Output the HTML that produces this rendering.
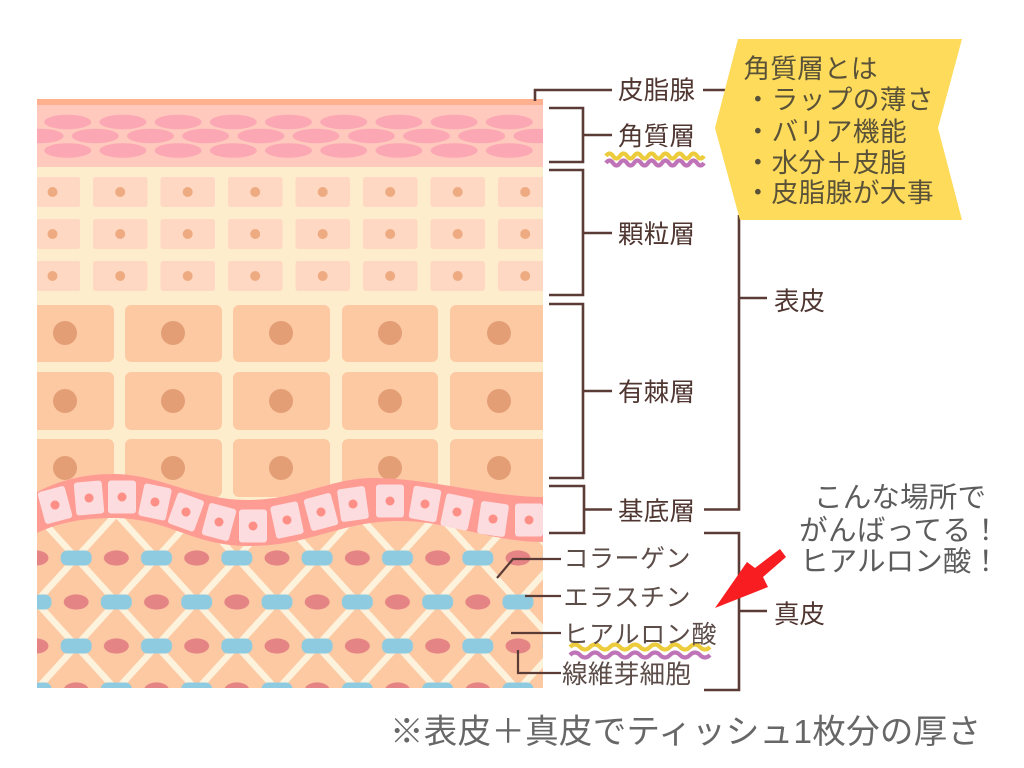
<!DOCTYPE html>
<html lang="ja">
<head>
<meta charset="utf-8">
<title>皮膚の構造</title>
<style>
html,body{margin:0;padding:0;background:#fff;width:1024px;height:768px;overflow:hidden}
svg{display:block}
text{font-family:"Liberation Sans","Noto Sans CJK JP",sans-serif}
.lb{fill:#4f3631;font-size:25.5px}
.sm{fill:#5c4d49;font-size:25px}
.bx{fill:#5a5238;font-size:26.7px}
.nt{fill:#5c5c5c;font-size:28.5px}
.ln{fill:none;stroke:#5b3b35;stroke-width:2.6}
.l2{fill:none;stroke:#5b3b35;stroke-width:2.2}
</style>
</head>
<body>
<svg width="1024" height="768" viewBox="0 0 1024 768" xmlns="http://www.w3.org/2000/svg">
<defs>
<clipPath id="skin"><rect x="37" y="99" width="506" height="589"/></clipPath>
<pattern id="gran" patternUnits="userSpaceOnUse" x="86.5" y="171" width="67.5" height="42">
  <rect x="6.5" y="6" width="54.5" height="30" rx="2.5" fill="#ffd8c3"/>
  <circle cx="33.7" cy="21" r="5" fill="#eeab82"/>
</pattern>
<pattern id="latt" patternUnits="userSpaceOnUse" x="36" y="514" width="80.33" height="88">
  <path d="M-10 -11L90.33 99M90.33 -11L-10 99" stroke="#fdf2dc" stroke-width="6.5" fill="none"/>
</pattern>
<pattern id="derm" patternUnits="userSpaceOnUse" x="36" y="514" width="80.33" height="88">
  <rect x="24.67" y="36.5" width="31" height="15" rx="6.5" fill="#8fcbe0"/>
  <rect x="-15.5" y="-7.5" width="31" height="15" rx="6.5" fill="#8fcbe0"/>
  <rect x="64.83" y="-7.5" width="31" height="15" rx="6.5" fill="#8fcbe0"/>
  <rect x="-15.5" y="80.5" width="31" height="15" rx="6.5" fill="#8fcbe0"/>
  <rect x="64.83" y="80.5" width="31" height="15" rx="6.5" fill="#8fcbe0"/>
  <ellipse cx="0" cy="44" rx="12.5" ry="7.6" fill="#e58485"/>
  <ellipse cx="80.33" cy="44" rx="12.5" ry="7.6" fill="#e58485"/>
  <ellipse cx="40.17" cy="0" rx="12.5" ry="7.6" fill="#e58485"/>
  <ellipse cx="40.17" cy="88" rx="12.5" ry="7.6" fill="#e58485"/>
</pattern>
<g id="bc"><rect x="-14" y="-16.5" width="28" height="33" rx="3" fill="#fcdcdf"/><circle r="4.5" fill="#fe8f87"/></g>
<g id="r1" fill="#fba8b4">
  <ellipse cx="67.7" rx="23.5" ry="7.3"/><ellipse cx="122.9" rx="23.5" ry="7.3"/><ellipse cx="178.1" rx="23.5" ry="7.3"/><ellipse cx="233.3" rx="23.5" ry="7.3"/><ellipse cx="288.5" rx="23.5" ry="7.3"/><ellipse cx="343.7" rx="23.5" ry="7.3"/><ellipse cx="398.9" rx="23.5" ry="7.3"/><ellipse cx="454.1" rx="23.5" ry="7.3"/><ellipse cx="509.3" rx="23.5" ry="7.3"/>
</g>
<g id="r2" fill="#fba8b4">
  <ellipse cx="40.1" rx="23.5" ry="7.3"/><ellipse cx="95.3" rx="23.5" ry="7.3"/><ellipse cx="150.5" rx="23.5" ry="7.3"/><ellipse cx="205.7" rx="23.5" ry="7.3"/><ellipse cx="260.9" rx="23.5" ry="7.3"/><ellipse cx="316.1" rx="23.5" ry="7.3"/><ellipse cx="371.3" rx="23.5" ry="7.3"/><ellipse cx="426.5" rx="23.5" ry="7.3"/><ellipse cx="481.7" rx="23.5" ry="7.3"/><ellipse cx="536.9" rx="23.5" ry="7.3"/>
</g>
</defs>

<g clip-path="url(#skin)">
  <!-- corneum -->
  <rect x="37" y="99" width="506" height="7" fill="#ffb08f"/>
  <rect x="37" y="105" width="506" height="62" fill="#ffc9bd"/>
  <use href="#r1" y="122"/>
  <use href="#r2" y="136"/>
  <use href="#r1" y="150.500"/>
  <!-- granular + spinous background -->
  <rect x="37" y="167" width="506" height="360" fill="#fdedcd"/>
  <rect x="37" y="177" width="43" height="30" rx="2" fill="#ffd8c3"/>
  <rect x="37" y="219" width="43" height="30" rx="2" fill="#ffd8c3"/>
  <rect x="37" y="261" width="43" height="30" rx="2" fill="#ffd8c3"/>
  <circle cx="52.5" cy="192" r="5" fill="#eeab82"/>
  <circle cx="52.5" cy="234" r="5" fill="#eeab82"/>
  <circle cx="52.5" cy="276" r="5" fill="#eeab82"/>
  <rect x="86.5" y="171" width="456.5" height="126" fill="url(#gran)"/>
  <!-- spinous -->
  <g fill="#fdc9a3">
    <rect x="20" y="305" width="94" height="57" rx="6"/><rect x="125" y="305" width="97" height="57" rx="6"/><rect x="233" y="305" width="97" height="57" rx="6"/><rect x="342" y="305" width="96" height="57" rx="6"/><rect x="450" y="305" width="110" height="57" rx="6"/>
    <rect x="20" y="372" width="94" height="58" rx="6"/><rect x="125" y="372" width="97" height="58" rx="6"/><rect x="233" y="372" width="97" height="58" rx="6"/><rect x="342" y="372" width="96" height="58" rx="6"/><rect x="450" y="372" width="110" height="58" rx="6"/>
    <rect x="20" y="439" width="94" height="58" rx="6"/><rect x="125" y="439" width="97" height="58" rx="6"/><rect x="233" y="439" width="97" height="58" rx="6"/><rect x="342" y="439" width="96" height="58" rx="6"/><rect x="450" y="439" width="110" height="58" rx="6"/>
  </g>
  <g fill="#e39e75">
    <circle cx="65" cy="333" r="12"/><circle cx="173" cy="333" r="12"/><circle cx="281" cy="333" r="12"/><circle cx="390" cy="333" r="12"/><circle cx="499" cy="333" r="12"/>
    <circle cx="65" cy="401" r="12"/><circle cx="173" cy="401" r="12"/><circle cx="281" cy="401" r="12"/><circle cx="390" cy="401" r="12"/><circle cx="499" cy="401" r="12"/>
    <circle cx="65" cy="468" r="12"/><circle cx="173" cy="468" r="12"/><circle cx="281" cy="468" r="12"/><circle cx="390" cy="468" r="12"/><circle cx="499" cy="468" r="12"/>
  </g>
  <!-- dermis -->
  <rect x="37" y="512" width="506" height="176" fill="#fdc9a3"/>
  <rect x="37" y="512" width="506" height="176" fill="url(#latt)"/>
  <rect x="37" y="532" width="506" height="156" fill="url(#derm)"/>
  <!-- basal -->
  <path d="M37 492C60 480 85 474 113 474C160 474 195 500 247 500C300 500 330 478 373 478C430 478 490 497 543 497L543 542C490 542 450 521 400 521C340 521 310 546 250 546C190 546 170 518 113 518C85 518 60 522 37 533Z" fill="#fe9c94"/>
  <use href="#bc" transform="translate(55 505) rotate(-15)"/>
  <use href="#bc" transform="translate(89 498) rotate(-5)"/>
  <use href="#bc" transform="translate(122 497)"/>
  <use href="#bc" transform="translate(155 502) rotate(12)"/>
  <use href="#bc" transform="translate(186 512) rotate(20)"/>
  <use href="#bc" transform="translate(219 522) rotate(15)"/>
  <use href="#bc" transform="translate(253 526)"/>
  <use href="#bc" transform="translate(287 520) rotate(-12)"/>
  <use href="#bc" transform="translate(321 512) rotate(-15)"/>
  <use href="#bc" transform="translate(353 504) rotate(-8)"/>
  <use href="#bc" transform="translate(390 501)"/>
  <use href="#bc" transform="translate(425 504) rotate(10)"/>
  <use href="#bc" transform="translate(457 512) rotate(12)"/>
  <use href="#bc" transform="translate(493 519) rotate(8)"/>
  <use href="#bc" transform="translate(529 520)"/>
</g>

<!-- brackets -->
<path class="ln" d="M535 101V90H612"/>
<path class="ln" d="M703 90H726"/>
<path class="ln" d="M549 108H583V162H549M583 135H612"/>
<path class="ln" d="M549 170H583V295H549M583 233H612"/>
<path class="ln" d="M549 304H583V478H549M583 391H612"/>
<path class="ln" d="M549 486H584V533H549M584 509.500H612"/>
<path class="ln" d="M704 509.500H739V215M739 298H767"/>
<path class="ln" d="M704 533H739V690H704M739 611H767"/>

<!-- dermis connectors -->
<path class="l2" d="M497 578L513 559H561"/>
<path class="l2" d="M525 596H561"/>
<path class="l2" d="M511 633H561"/>
<path class="l2" d="M518 650V673H561"/>

<!-- yellow box -->
<polygon points="738,39 962,39 938,128 962,220 740,220 715,128" fill="#fedb5b"/>

<!-- wavy underlines -->
<path d="M606 156q3.500 -5 7 0t7 0t7 0t7 0t7 0t7 0t7 0t7 0t7 0t7 0t7 0t7 0t7 0t7 0" fill="none" stroke="#eccb3d" stroke-width="4.200"/>
<path d="M606 163q3.500 -5 7 0t7 0t7 0t7 0t7 0t7 0t7 0t7 0t7 0t7 0t7 0t7 0t7 0t7 0" fill="none" stroke="#bf74b8" stroke-width="4.200"/>
<path d="M570 647q5 -5 10 0t10 0t10 0t10 0t10 0t10 0t10 0t10 0t10 0t10 0t10 0t10 0t10 0t10 0" fill="none" stroke="#eccb3d" stroke-width="4.200"/>
<path d="M570 655q5 -5 10 0t10 0t10 0t10 0t10 0t10 0t10 0t10 0t10 0t10 0t10 0t10 0t10 0t10 0" fill="none" stroke="#bf74b8" stroke-width="4.200"/>

<!-- labels -->
<text class="lb" x="618" y="99" textLength="77">皮脂腺</text>
<text class="lb" x="618" y="145" textLength="77">角質層</text>
<text class="lb" x="618" y="243" textLength="77">顆粒層</text>
<text class="lb" x="618" y="401" textLength="77">有棘層</text>
<text class="lb" x="618" y="520" textLength="77">基底層</text>
<text class="lb" x="774" y="310" textLength="51">表皮</text>
<text class="lb" x="774" y="623" textLength="51">真皮</text>

<text class="sm" x="563.500" y="567" textLength="127">コラーゲン</text>
<text class="sm" x="563.500" y="606" textLength="127">エラスチン</text>
<text class="sm" x="563.500" y="643" textLength="153">ヒアルロン酸</text>
<text class="sm" x="562" y="683" textLength="129" style="font-size:25.6px">線維芽細胞</text>

<text class="bx" x="743.500" y="78" textLength="134">角質層とは</text>
<text class="bx" x="744.500" y="109" textLength="189">・ラップの薄さ</text>
<text class="bx" x="744.500" y="141" textLength="162">・バリア機能</text>
<text class="bx" x="744.500" y="172" textLength="162">・水分＋皮脂</text>
<text class="bx" x="744.500" y="202" textLength="189">・皮脂腺が大事</text>

<text class="nt" x="814" y="507" textLength="172">こんな場所で</text>
<text class="nt" x="799" y="540" textLength="201">がんばってる！</text>
<text class="nt" x="800" y="571" textLength="200">ヒアルロン酸！</text>

<polygon points="715,608 747,562 755,568 780,549 786,557 763,577 768,587" fill="#f71d20"/>

<text x="390" y="743" font-size="33.500" fill="#676767" textLength="591">※表皮＋真皮でティッシュ1枚分の厚さ</text>
</svg>
</body>
</html>
